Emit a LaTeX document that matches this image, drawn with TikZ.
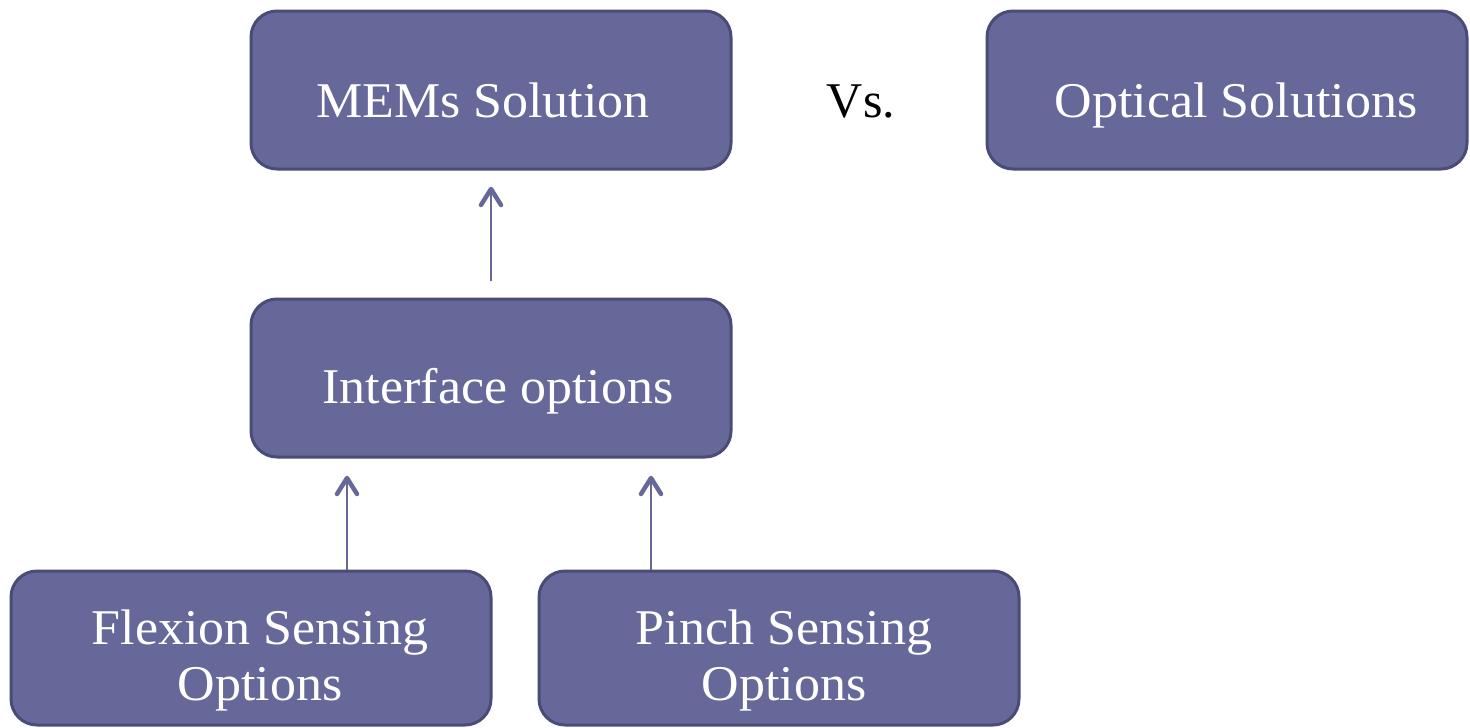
\documentclass[tikz,border=0pt]{standalone}
\usepackage{fontspec}
\setmainfont{Liberation Serif}
\newfontfamily\panelfont[FakeStretch=1.04]{Liberation Serif}
\definecolor{boxfill}{HTML}{666899}
\definecolor{boxedge}{HTML}{4B4B78}
\tikzset{
  x=1pt, y=-1pt,
  panel/.style={draw=boxedge, line width=3pt, fill=boxfill, rounded corners=26pt},
  paneltext/.style={text=white, font=\panelfont\fontsize{50}{56}\selectfont, align=center, inner sep=0pt, anchor=base},
  link/.style={draw=boxfill, line width=2pt},
  barb/.style={draw=boxfill, line width=4.5pt, line cap=round, line join=round},
}
\begin{document}
\begin{tikzpicture}
\useasboundingbox (0,0) rectangle (1470,728);
% boxes
\path[panel] (251,11) rectangle (731,169);
\path[panel] (987,11) rectangle (1467,169);
\path[panel] (251,299) rectangle (731,457);
\path[panel] (11,571) rectangle (491,725);
\path[panel] (539,571) rectangle (1019,725);
% labels (base anchor = baseline of the last line)
\node[paneltext] (memsT) at (483,117) {MEMs Solution};
\node[paneltext] (opticalT) at (1236,117) {Optical Solutions};
\node[paneltext] (ifaceT) at (498,403) {Interface options};
\node[paneltext] (flexT) at (260,700) {Flexion Sensing\\Options};
\node[paneltext] (pinchT) at (784,700) {Pinch Sensing\\Options};
\node[font=\fontsize{50}{56}\selectfont, inner sep=0pt, anchor=base] (vs) at (861,117) {Vs.};
% connectors
\coordinate (a1s) at (491,281);
\coordinate (a1e) at (491,189);
\coordinate (a2s) at (347,570);
\coordinate (a2e) at (347,478);
\coordinate (a3s) at (651,570);
\coordinate (a3e) at (651,478);
\foreach \s/\e in {a1s/a1e, a2s/a2e, a3s/a3e}{
  \draw[link] (\s) -- (\e);
  \draw[barb] ([shift={(-10,16)}]\e) -- (\e) -- ([shift={(10,16)}]\e);
}
\end{tikzpicture}
\end{document}
